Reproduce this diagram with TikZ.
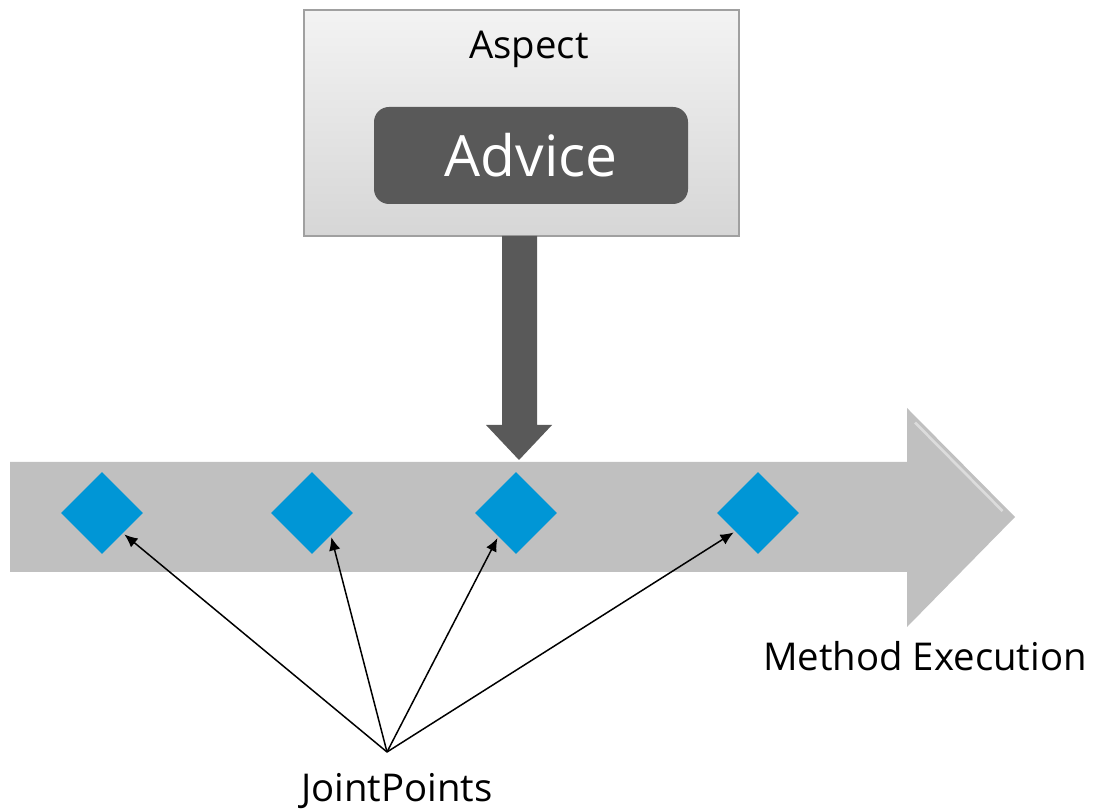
\documentclass[tikz,border=0pt]{standalone}
\usepackage{fontspec}
\setmainfont{Open Sans}
\usetikzlibrary{shapes.geometric,arrows.meta}
\definecolor{boxtop}{RGB}{243,243,243}
\definecolor{boxbottom}{RGB}{214,214,214}
\definecolor{boxline}{RGB}{160,160,160}
\definecolor{advicegray}{RGB}{89,89,89}
\definecolor{bandgray}{RGB}{192,192,192}
\definecolor{jpblue}{RGB}{0,150,214}

\begin{document}
\begin{tikzpicture}[font=\fontsize{21.8}{26}\selectfont,
	aspectbox/.style={draw=boxline,line width=1pt,top color=boxtop,bottom color=boxbottom,minimum width=8.7cm,minimum height=4.52cm,inner sep=0pt},
	advicebox/.style={fill=advicegray,rounded corners=0.3cm,minimum width=6.28cm,minimum height=1.94cm,inner sep=0pt,text=white,font=\fontsize{32.4}{38}\selectfont},
	jointpoint/.style={diamond,fill=jpblue,minimum width=1.64cm,minimum height=1.64cm,inner sep=0pt},
	pointer/.style={line width=0.85pt,-{Latex[length=7.5pt,width=6.5pt]},shorten >=1pt}]
	\useasboundingbox (0,0) rectangle (21.86,16.2);
	
	%aspect---------------------------------------------
	\node[aspectbox] (aspect) at (10.43,13.74) {}; %aspect box
	\node[anchor=base] (aspecttitle) at (10.58,15.02) {Aspect}; %aspect title
	\node[advicebox] (advice) at (10.62,13.09) {Advice}; %advice box
	\fill[advicegray] (10.04,11.48) -- (10.74,11.48) -- (10.74,7.7) -- (11.04,7.7) -- (10.38,7.0) -- (9.72,7.7) -- (10.04,7.7) -- cycle; %down arrow
	
	%method execution-----------------------------------
	\fill[bandgray] (0.2,6.96) -- (18.14,6.96) -- (18.14,8.04) -- (20.3,5.86) -- (18.14,3.66) -- (18.14,4.76) -- (0.2,4.76) -- cycle; %band arrow
	\draw[white,opacity=0.45,line width=1.5pt] (18.3,7.75) -- (20.05,5.98); %head highlight
	\node[anchor=base] (execlabel) at (18.5,2.78) {Method Execution}; %execution label
	
	%joint points---------------------------------------
	\node[jointpoint] (jp1) at (2.04,5.94) {};
	\node[jointpoint] (jp2) at (6.24,5.94) {};
	\node[jointpoint] (jp3) at (10.32,5.94) {};
	\node[jointpoint] (jp4) at (15.16,5.94) {};
	\coordinate (meet) at (7.74,1.16); %where the pointers meet
	\draw[pointer] (meet) -- (jp1.-44);
	\draw[pointer] (meet) -- (jp2.-50);
	\draw[pointer] (meet) -- (jp3.-127);
	\draw[pointer] (meet) -- (jp4.-141);
	\node[anchor=base] (jplabel) at (7.94,0.16) {JointPoints}; %joint points label
\end{tikzpicture}
\end{document}
